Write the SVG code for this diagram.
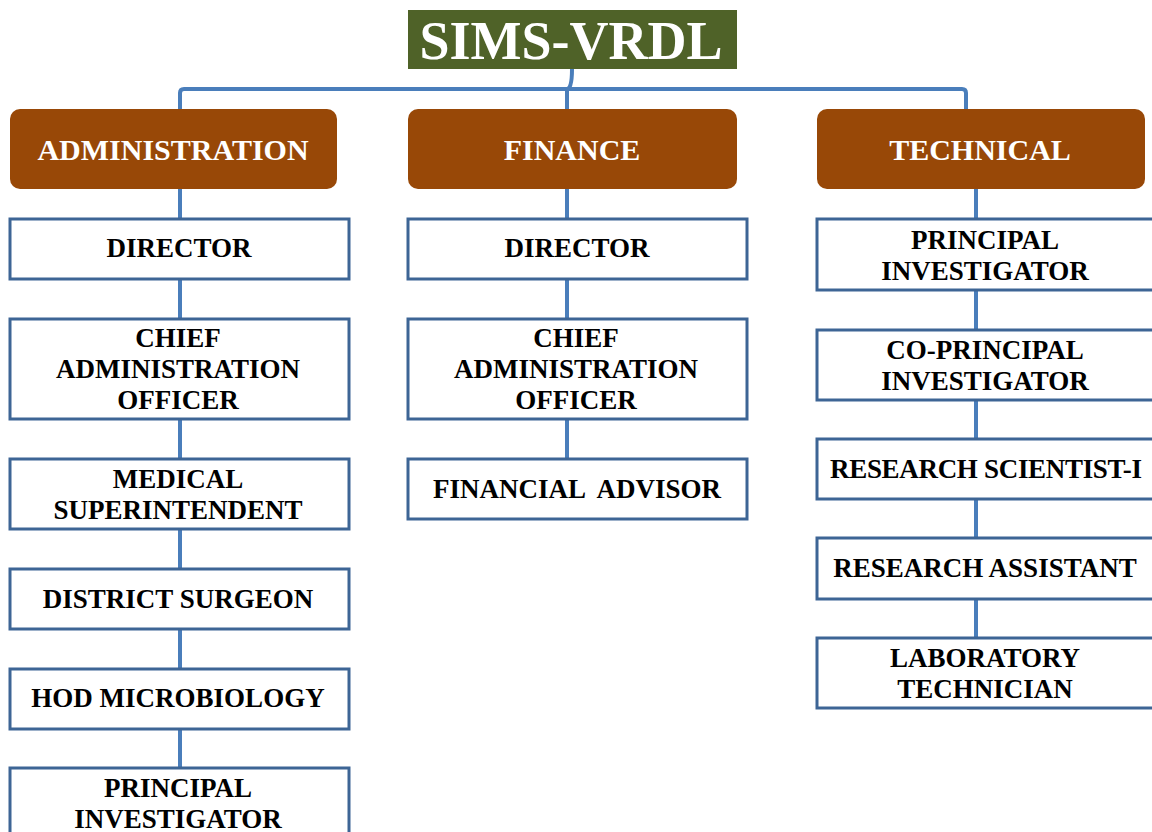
<svg xmlns="http://www.w3.org/2000/svg" width="1152" height="832" viewBox="0 0 1152 832">
<style>
.ln{stroke:#4a7ebb;stroke-width:4;fill:none}
.bx{fill:#ffffff;stroke:#3d6595;stroke-width:3}
.hd{fill:#984807}
.t{font-family:"Liberation Serif","Times New Roman",serif;font-weight:bold;font-size:27px;fill:#000;text-anchor:middle;white-space:pre}
.h{font-family:"Liberation Serif","Times New Roman",serif;font-weight:bold;font-size:30px;fill:#fff;text-anchor:middle}
</style>
<rect width="1152" height="832" fill="#fff"/>
<g id="connectors">
<path class="ln" d="M572 69 Q572 89 567 89 M180 109 V93 Q180 89 184 89 H962 Q966 89 966 93 V109 M567 89 V109"/>
<line class="ln" x1="180" y1="189" x2="180" y2="770"/>
<line class="ln" x1="567" y1="189" x2="567" y2="460"/>
<line class="ln" x1="976" y1="189" x2="976" y2="640"/>
</g>
<g id="title"><rect x="408" y="10" width="329" height="59" fill="#4f6228"/><text x="571" y="59" font-family="Liberation Serif,serif" font-weight="bold" font-size="54" fill="#fff" text-anchor="middle">SIMS-VRDL</text></g>
<g id="administration"><rect class="hd" x="10" y="109" width="327" height="80" rx="10"/><text class="h" x="173" y="160">ADMINISTRATION</text></g>
<g id="finance"><rect class="hd" x="408" y="109" width="329" height="80" rx="10"/><text class="h" x="572" y="160">FINANCE</text></g>
<g id="technical"><rect class="hd" x="817" y="109" width="328" height="80" rx="10"/><text class="h" x="980" y="160">TECHNICAL</text></g>

<g id="a-director"><rect class="bx" x="10" y="219" width="339" height="60"/><text class="t" x="179" y="257">DIRECTOR</text></g>
<g id="a-cao"><rect class="bx" x="10" y="319" width="339" height="100"/><text class="t" x="178" y="347">CHIEF</text><text class="t" x="178" y="378">ADMINISTRATION</text><text class="t" x="178" y="409">OFFICER</text></g>
<g id="a-ms"><rect class="bx" x="10" y="459" width="339" height="70"/><text class="t" x="178" y="488">MEDICAL</text><text class="t" x="178" y="519">SUPERINTENDENT</text></g>
<g id="a-ds"><rect class="bx" x="10" y="569" width="339" height="60"/><text class="t" x="178" y="608">DISTRICT SURGEON</text></g>
<g id="a-hod"><rect class="bx" x="10" y="669" width="339" height="60"/><text class="t" x="178" y="707">HOD MICROBIOLOGY</text></g>
<g id="a-pi"><rect class="bx" x="10" y="768" width="339" height="80"/><text class="t" x="178" y="797">PRINCIPAL</text><text class="t" x="178" y="828">INVESTIGATOR</text></g>

<g id="f-director"><rect class="bx" x="408" y="219" width="339" height="60"/><text class="t" x="577" y="257">DIRECTOR</text></g>
<g id="f-cao"><rect class="bx" x="408" y="319" width="339" height="100"/><text class="t" x="576" y="347">CHIEF</text><text class="t" x="576" y="378">ADMINISTRATION</text><text class="t" x="576" y="409">OFFICER</text></g>
<g id="f-fa"><rect class="bx" x="408" y="459" width="339" height="60"/><text class="t" x="577" y="498">FINANCIAL  ADVISOR</text></g>

<g id="t-pi"><rect class="bx" x="817" y="219" width="340" height="71"/><text class="t" x="985" y="249">PRINCIPAL</text><text class="t" x="985" y="280">INVESTIGATOR</text></g>
<g id="t-copi"><rect class="bx" x="817" y="330" width="340" height="70"/><text class="t" x="985" y="359">CO-PRINCIPAL</text><text class="t" x="985" y="390">INVESTIGATOR</text></g>
<g id="t-rs"><rect class="bx" x="817" y="439" width="340" height="60"/><text class="t" x="986" y="478" textLength="312">RESEARCH SCIENTIST-I</text></g>
<g id="t-ra"><rect class="bx" x="817" y="538" width="340" height="61"/><text class="t" x="985" y="577">RESEARCH ASSISTANT</text></g>
<g id="t-lt"><rect class="bx" x="817" y="638" width="340" height="70"/><text class="t" x="985" y="667">LABORATORY</text><text class="t" x="985" y="698">TECHNICIAN</text></g>
</svg>
